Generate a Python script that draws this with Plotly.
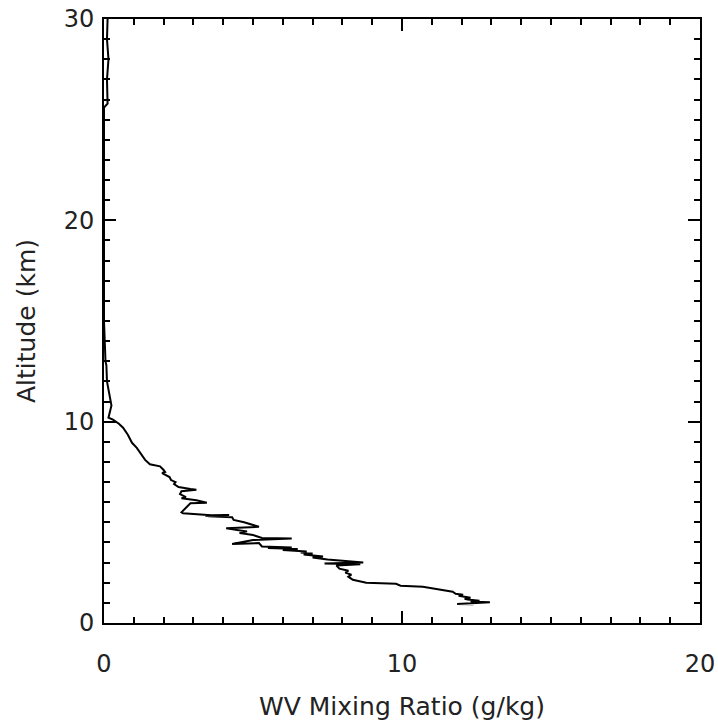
import plotly.graph_objects as go

# Water vapour mixing ratio profile (g/kg) vs altitude (km)
mixing_ratio = [
    0.12, 0.10, 0.15, 0.10, 0.12, 0.00, 0.00, 0.00, 0.05, 0.08, 0.10, 0.15, 0.20, 0.25, 0.15, 0.30,
    0.50, 0.64, 0.80, 0.94, 1.10, 1.20, 1.30, 1.38, 1.54, 1.88, 2.00, 2.05, 1.95, 2.20, 2.25, 2.40,
    2.35, 2.50, 2.90, 3.10, 2.60, 2.55, 2.75, 2.60, 3.10, 3.45, 2.90, 2.75, 2.60, 2.65, 3.30, 3.60,
    4.20, 3.40, 4.10, 3.50, 4.30, 4.35, 4.70, 5.10, 5.20, 4.10, 4.50, 4.80, 4.55, 5.00, 5.30, 6.30,
    5.00, 4.30, 5.20, 5.30, 6.30, 5.50, 6.50, 6.00, 6.80, 6.60, 7.00, 6.70, 7.35, 7.00, 7.50, 8.70,
    7.40, 8.60, 7.80, 7.90, 8.20, 8.10, 8.30, 8.20, 8.35, 8.80, 9.80, 9.95, 10.70, 11.30, 11.70,
    11.80, 12.05, 11.90, 12.30, 12.10, 12.20, 12.60, 12.30, 12.40, 12.95, 12.50, 11.85, 12.40,
]
altitude = [
    30.00, 29.00, 28.00, 27.00, 25.80, 25.60, 20.00, 15.00, 13.00, 12.80, 12.00, 11.60, 11.00, 10.80, 10.20, 10.10,
    9.90, 9.70, 9.35, 8.95, 8.70, 8.50, 8.30, 8.10, 7.88, 7.78, 7.60, 7.50, 7.45, 7.25, 7.10, 7.00,
    6.90, 6.75, 6.65, 6.62, 6.55, 6.40, 6.25, 6.20, 6.10, 5.97, 5.95, 5.70, 5.50, 5.45, 5.38, 5.35,
    5.37, 5.33, 5.32, 5.30, 5.25, 5.12, 5.00, 4.85, 4.78, 4.70, 4.60, 4.55, 4.47, 4.37, 4.22, 4.20,
    4.12, 3.92, 3.97, 3.80, 3.75, 3.72, 3.68, 3.62, 3.55, 3.50, 3.45, 3.40, 3.30, 3.25, 3.15, 3.00,
    2.95, 2.92, 2.85, 2.70, 2.60, 2.50, 2.40, 2.30, 2.15, 2.00, 1.95, 1.85, 1.80, 1.65, 1.55,
    1.45, 1.40, 1.35, 1.25, 1.20, 1.17, 1.10, 1.08, 1.06, 1.03, 0.98, 0.94, 0.93,
]

x_ticks = [0, 10, 20]
y_ticks = [0, 10, 20, 30]

FONT = "DejaVu Sans"

fig = go.Figure()
fig.add_trace(go.Scatter(
    x=mixing_ratio, y=altitude, mode="lines",
    line=dict(color="black", width=2),
    showlegend=False, hoverinfo="skip",
))

axis_common = dict(
    showgrid=False, zeroline=False, automargin=False,
    showline=True, linecolor="black", linewidth=2, mirror="allticks",
    ticks="inside", ticklen=12, tickwidth=2, tickcolor="black",
    tickfont=dict(family=FONT, size=24, color="#222222"),
    ticklabeloverflow="allow",
    minor=dict(ticks="inside", ticklen=6, tickwidth=1.5, tickcolor="black", dtick=1),
)

fig.update_layout(
    width=718, height=721,
    margin=dict(l=104, r=18, t=19, b=98),
    paper_bgcolor="white", plot_bgcolor="white",
    xaxis=dict(range=[0, 20], tickvals=x_ticks, ticktext=[str(v) for v in x_ticks],
               title=dict(text="WV Mixing Ratio (g/kg)", standoff=26,
                          font=dict(family=FONT, size=25, color="#222222")),
               ticklabelstandoff=18, **axis_common),
    yaxis=dict(range=[0, 30], tickvals=y_ticks, ticktext=[str(v) for v in y_ticks],
               title=dict(text="Altitude (km)", standoff=21,
                          font=dict(family=FONT, size=25, color="#222222")),
               ticklabelstandoff=3, **axis_common),
)

# remove the page's default body margin so the figure sits at the window's corner
fig.write_html(
    "out.html",
    config={"displayModeBar": False},
    post_script="document.body.style.margin='0';document.body.style.overflow='hidden';",
)
